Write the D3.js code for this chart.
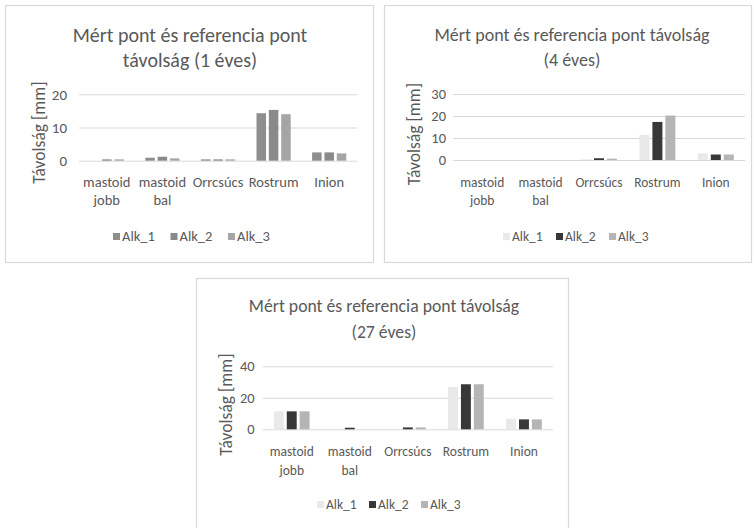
<!DOCTYPE html>
<html>
<head>
<meta charset="utf-8">
<script src="https://cdn.jsdelivr.net/npm/d3@7"></script>
<style>
  html, body { margin: 0; padding: 0; background: #ffffff; }
  svg text { font-family: "Carlito", "Lato", sans-serif; fill: #595959; }
</style>
</head>
<body>
<script>
// ---------- DATA ----------
const categories = ["mastoid jobb", "mastoid bal", "Orrcsúcs", "Rostrum", "Inion"];
const series = ["Alk_1", "Alk_2", "Alk_3"];

const titles1 = ["Mért pont és referencia pont", "távolság (1 éves)"];
const titles4 = ["Mért pont és referencia pont távolság", "(4 éves)"];
const titles27 = ["Mért pont és referencia pont távolság", "(27 éves)"];

const yAxisTitle = "Távolság [mm]";

const ticks1 = [0, 10, 20];
const ticks4 = [0, 10, 20, 30];
const ticks27 = [0, 20, 40];

// 1 éves
const alk1_1 = [0, 0.9, 0.4, 14.3, 2.5];
const alk2_1 = [0.4, 1.2, 0.4, 15.3, 2.5];
const alk3_1 = [0.4, 0.7, 0.4, 14.0, 2.2];
// 4 éves
const alk1_4 = [0, 0, 0.3, 11.4, 3.0];
const alk2_4 = [0, 0, 0.8, 17.3, 2.5];
const alk3_4 = [0, 0, 0.6, 20.2, 2.5];
// 27 éves
const alk1_27 = [11.4, 0, 0, 26.9, 6.7];
const alk2_27 = [11.4, 1.0, 1.2, 28.6, 6.3];
const alk3_27 = [11.4, 0, 1.2, 28.6, 6.3];

// ---------- STYLE / LAYOUT ----------
const colorsGray = ["#8e8e8e", "#8a8a8a", "#a5a5a5"];
const colorsMixed = ["#e9e9e9", "#383838", "#b5b5b5"];

const charts = [
  { titles: titles1, ticks: ticks1, values: [alk1_1, alk2_1, alk3_1], colors: colorsGray,
    box: [5.5, 5.5, 368, 257], px: [79, 357], py: [160.7, 94.3],
    titleX: 190, titleY: [41.5, 67], titleSize: 20,
    fs: 14.5, tickFs: 15, tickPad: 12, axisFs: 17.5, axisTitleX: 39, axisTitleY: 132.5,
    catY: [187, 205], legY: 241, legX: 113, legStep: 57.5 },
  { titles: titles4, ticks: ticks4, values: [alk1_4, alk2_4, alk3_4], colors: colorsMixed,
    box: [384.5, 5.5, 367, 257], px: [453, 745], py: [160, 94],
    titleX: 572, titleY: [41, 66], titleSize: 18,
    fs: 13.5, tickFs: 14.5, tickPad: 7, axisFs: 17.5, axisTitleX: 413.5, axisTitleY: 134,
    catY: [187, 205], legY: 241, legX: 503, legStep: 53 },
  { titles: titles27, ticks: ticks27, values: [alk1_27, alk2_27, alk3_27], colors: colorsMixed,
    box: [196.5, 278.5, 372, 260], px: [262.7, 553], py: [429.3, 366.3],
    titleX: 384, titleY: [312, 337.5], titleSize: 17.7,
    fs: 13.5, tickFs: 14.5, tickPad: 8, axisFs: 17.5, axisTitleX: 226, axisTitleY: 404.5,
    catY: [456, 475], legY: 509, legX: 317, legStep: 52 }
];

const svg = d3.select("body").append("svg")
  .attr("width", 754).attr("height", 528);

charts.forEach(c => {
  const g = svg.append("g");
  // border
  g.append("rect")
    .attr("x", c.box[0]).attr("y", c.box[1])
    .attr("width", c.box[2]).attr("height", c.box[3])
    .attr("fill", "#ffffff").attr("stroke", "#d9d9d9").attr("stroke-width", 1.2);

  const yMax = d3.max(c.ticks);
  const y = d3.scaleLinear().domain([0, yMax]).range(c.py);
  const x0 = d3.scaleBand().domain(categories).range(c.px).padding(0);
  const W = x0.bandwidth();
  const x1 = d3.scaleBand().domain(series)
    .range([W * (1 - 0.615) / 2, W * (1 + 0.615) / 2])
    .paddingInner(0.23).paddingOuter(0);

  // gridlines + tick labels via axis
  const axis = d3.axisLeft(y).tickValues(c.ticks)
    .tickSize(-(c.px[1] - c.px[0])).tickPadding(c.tickPad).tickFormat(d3.format("d"));
  const ag = g.append("g").attr("transform", `translate(${c.px[0]},0)`).call(axis);
  ag.attr("font-family", null).attr("font-size", null);
  ag.select(".domain").remove();
  ag.selectAll(".tick line").attr("stroke", "#d9d9d9").attr("stroke-width", 1);
  ag.selectAll(".tick text").attr("font-size", c.tickFs).attr("fill", "#595959");

  // bars
  series.forEach((s, si) => {
    g.append("g").selectAll("rect")
      .data(c.values[si].map((v, i) => ({ cat: categories[i], v })))
      .join("rect")
      .attr("x", d => x0(d.cat) + x1(s))
      .attr("width", x1.bandwidth())
      .attr("y", d => y(d.v))
      .attr("height", d => y(0) - y(d.v))
      .attr("fill", c.colors[si]);
  });

  // title
  c.titles.forEach((t, i) => {
    g.append("text").attr("x", c.titleX).attr("y", c.titleY[i])
      .attr("text-anchor", "middle").attr("font-size", c.titleSize).text(t);
  });

  // y axis title
  g.append("text")
    .attr("transform", `translate(${c.axisTitleX},${c.axisTitleY}) rotate(-90)`)
    .attr("text-anchor", "middle").attr("dy", "0.35em")
    .attr("font-size", c.axisFs).text(yAxisTitle);

  // category labels (wrapped at spaces)
  categories.forEach(cat => {
    const lines = cat.split(" ");
    lines.forEach((ln, li) => {
      g.append("text").attr("x", x0(cat) + W / 2).attr("y", c.catY[li])
        .attr("text-anchor", "middle").attr("font-size", c.fs).text(ln);
    });
  });

  // legend
  series.forEach((s, si) => {
    const lx = c.legX + si * c.legStep;
    g.append("rect").attr("x", lx).attr("y", c.legY - 8)
      .attr("width", 7).attr("height", 7).attr("fill", c.colors[si]);
    g.append("text").attr("x", lx + 9).attr("y", c.legY)
      .attr("font-size", c.fs).text(s);
  });
});
</script>
</body>
</html>
